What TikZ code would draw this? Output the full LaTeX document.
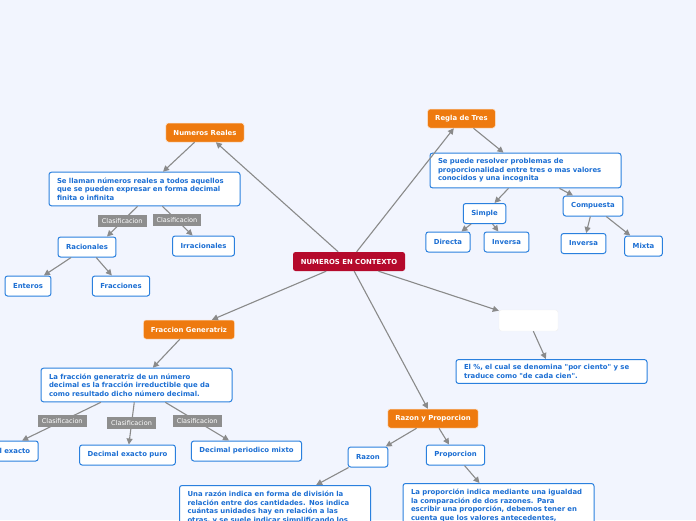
\documentclass[tikz,border=0pt]{standalone}
\usepackage{fontspec}
\setmainfont{DejaVu Sans}
\usetikzlibrary{arrows.meta}
\definecolor{bgblue}{HTML}{F2F5FE}
\definecolor{rootred}{HTML}{B50A2C}
\definecolor{topicorange}{HTML}{EE7A0F}
\definecolor{boxblue}{HTML}{2A80DE}
\definecolor{txtblue}{HTML}{1B6ED3}
\definecolor{tagGray}{HTML}{8E8E8E}
\definecolor{lineGray}{HTML}{8A8A8A}

\begin{document}
\begin{tikzpicture}[
    x=1pt, y=-1pt,
    every node/.style={font=\fontsize{6.9}{8.5}\selectfont\bfseries},
    root/.style={rectangle, rounded corners=2.5pt, fill=rootred, text=white, minimum width=112pt, minimum height=19pt},
    topic/.style={rectangle, rounded corners=2.5pt, fill=topicorange, draw=white!80!topicorange, line width=0.5pt, text=white, minimum height=19pt, inner xsep=7.5pt},
    leaf/.style={rectangle, rounded corners=2.5pt, fill=white, draw=boxblue, line width=1pt, text=txtblue, minimum height=20pt, inner xsep=8pt},
    desc/.style={leaf, text width=175pt, align=left, inner ysep=5.5pt},
    tag/.style={rectangle, fill=tagGray, text=white, font=\fontsize{6.5}{7}\selectfont, minimum height=12pt, inner xsep=4pt, inner ysep=0pt},
    arrow/.style={-{Triangle[length=6pt,width=6pt]}, draw=lineGray, line width=1.1pt}
]
\useasboundingbox (0,0) rectangle (696,520);
\clip (0,0) rectangle (696,520);
\fill[bgblue] (0,0) rectangle (696,520);

% centre
\node[root] (ctx) at (349,261.5) {NUMEROS EN CONTEXTO};

% numeros reales
\node[topic] (reales) at (205,132.5) {Numeros Reales};
\node[desc] (descReales) at (144.5,189) {Se llaman números reales a todos aquellos\\ que se pueden expresar en forma decimal\\ finita o infinita};
\node[leaf] (racionales) at (87,247) {Racionales};
\node[leaf] (irracionales) at (203.5,246) {Irracionales};
\node[leaf] (enteros) at (28,286) {Enteros};
\node[leaf] (fracciones) at (121,286) {Fracciones};

% regla de tres
\node[topic] (regla) at (461.5,118.5) {Regla de Tres};
\node[desc] (descRegla) at (525.5,170.5) {Se puede resolver problemas de\\ proporcionalidad entre tres o mas valores\\ conocidos y una incognita};
\node[leaf] (simple) at (484.5,213.5) {Simple};
\node[leaf] (compuesta) at (593,206) {Compuesta};
\node[leaf] (directa) at (448,242) {Directa};
\node[leaf] (inversaS) at (506.5,242) {Inversa};
\node[leaf] (inversaC) at (583.5,243.5) {Inversa};
\node[leaf] (mixta) at (643.5,246) {Mixta};

% fraccion generatriz
\node[topic] (generatriz) at (189,329.5) {Fraccion Generatriz};
\node[desc] (descGen) at (136.5,385) {La fracción generatriz de un número\\ decimal es la fracción irreductible que da\\ como resultado dicho número decimal.};
\node[leaf] (decExacto) at (0.5,451) {Decimal exacto};
\node[leaf] (decPuro) at (127.5,455) {Decimal exacto puro};
\node[leaf] (decMixto) at (246.5,451) {Decimal periodico mixto};

% porcentaje
\node[rectangle, rounded corners=2.5pt, fill=white, draw=black!6, minimum width=59pt, minimum height=21pt] (porcentaje) at (528.5,320.5) {};
\node[desc, inner ysep=5pt] (descPorc) at (551.5,371.5) {El \%, el cual se denomina \textquotedbl por ciento\textquotedbl\ y se\\ traduce como \textquotedbl de cada cien\textquotedbl.};

% razon y proporcion
\node[topic] (razonProp) at (433,418.5) {Razon y Proporcion};
\node[leaf] (razon) at (368,457) {Razon};
\node[leaf] (proporcion) at (455.5,455) {Proporcion};
\node[desc, anchor=north] (descRazon) at (275,485) {Una razón indica en forma de división la\\ relación entre dos cantidades. Nos indica\\ cuántas unidades hay en relación a las\\ otras, y se suele indicar simplificando los};
\node[desc, anchor=north] (descProp) at (498.5,483) {La proporción indica mediante una igualdad\\ la comparación de dos razones. Para\\ escribir una proporción, debemos tener en\\ cuenta que los valores antecedentes,};

\draw[arrow] (ctx) -- (reales);
\draw[arrow] (ctx) -- (regla);
\draw[arrow] (ctx) -- (generatriz);
\draw[arrow] (ctx) -- (porcentaje);
\draw[arrow] (ctx) -- (razonProp);

\draw[arrow] (reales) -- (descReales);
\draw[arrow] ([xshift=-7pt]descReales.south) -- node[tag] (tagRac) {Clasificacion} ([xshift=20pt]racionales.north);
\draw[arrow] (descReales) -- node[tag, pos=0.48] (tagIrr) {Clasificacion} (irracionales);
\draw[arrow] (racionales) -- (enteros);
\draw[arrow] (racionales) -- (fracciones);

\draw[arrow] (regla) -- (descRegla);
\draw[arrow] (descRegla) -- (simple);
\draw[arrow] (descRegla) -- (compuesta);
\draw[arrow] (simple) -- (directa);
\draw[arrow] (simple) -- (inversaS);
\draw[arrow] (compuesta) -- (inversaC);
\draw[arrow] (compuesta) -- (mixta);

\draw[arrow] (generatriz) -- (descGen);
\draw[arrow] (descGen) -- node[tag, pos=0.49] (tagExacto) {Clasificacion} (decExacto);
\draw[arrow] (descGen) -- node[tag] (tagPuro) {Clasificacion} (decPuro);
\draw[arrow] (descGen) -- node[tag] (tagMixto) {Clasificacion} (decMixto);

\draw[arrow] (porcentaje) -- (descPorc);

\draw[arrow] (razonProp) -- (razon);
\draw[arrow] (razonProp) -- (proporcion);
\draw[arrow] (razon) -- (descRazon);
\draw[arrow] (proporcion) -- (descProp);
\end{tikzpicture}
\end{document}
